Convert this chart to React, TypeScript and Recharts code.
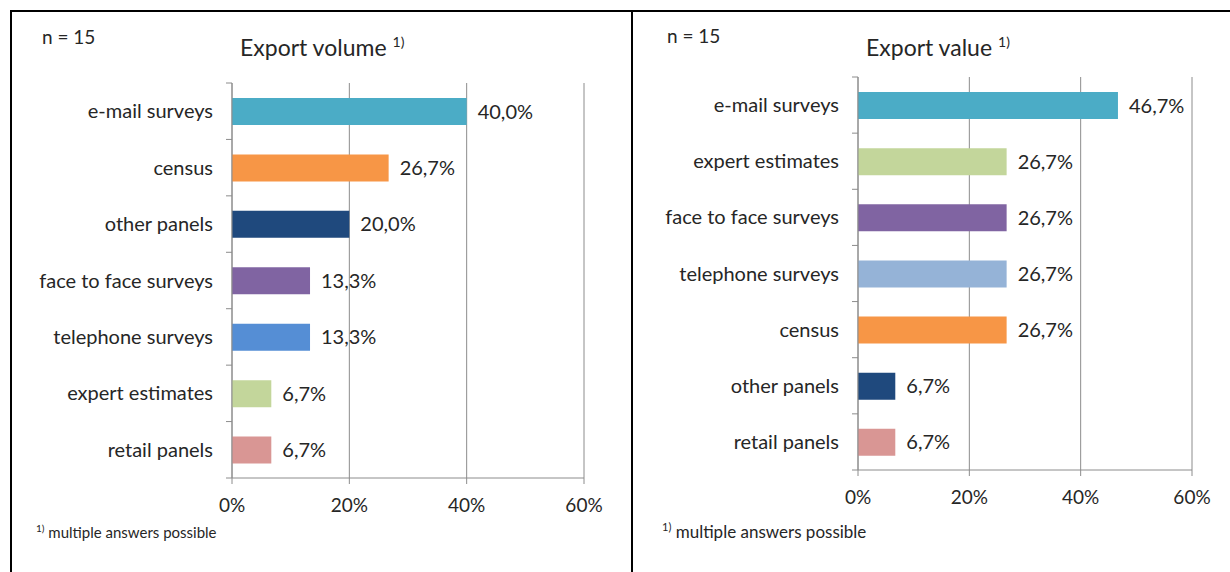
import React from 'react';
import { BarChart, Bar, XAxis, YAxis, CartesianGrid, Cell, LabelList } from 'recharts';

/* ---------------------------------------------------------------------------
   Data
   --------------------------------------------------------------------------- */

const volumeCategories = [
  'e-mail surveys',
  'census',
  'other panels',
  'face to face surveys',
  'telephone surveys',
  'expert estimates',
  'retail panels',
];
const volumeShares = [40.0, 26.7, 20.0, 13.3, 13.3, 6.7, 6.7];

const valueCategories = [
  'e-mail surveys',
  'expert estimates',
  'face to face surveys',
  'telephone surveys',
  'census',
  'other panels',
  'retail panels',
];
const valueShares = [46.7, 26.7, 26.7, 26.7, 26.7, 6.7, 6.7];

const shareTicks = [0, 20, 40, 60];

/* ---------------------------------------------------------------------------
   Styles
   --------------------------------------------------------------------------- */

const volumeColors = ['#4BACC6', '#F79646', '#1F497D', '#8064A2', '#558ED5', '#C3D69B', '#D99694'];
const valueColors  = ['#4BACC6', '#C3D69B', '#8064A2', '#95B3D7', '#F79646', '#1F497D', '#D99694'];

const FONT  = 'Lato, "Open Sans", sans-serif';
const INK   = '#262626';
const GRID  = '#8C8C8C';

const fmtShare = (v: number) => `${v.toFixed(1).replace('.', ',')}%`;

/* ---------------------------------------------------------------------------
   Category tick: label + boundary tick marks (Excel style)
   --------------------------------------------------------------------------- */

function makeCategoryTick(band: number, count: number) {
  return function CategoryTick(props: any) {
    const { x, y, payload, index } = props;
    const axisX = x + 19;
    const top = y - band / 2;
    const bottom = y + band / 2;
    return (
      <g>
        <line x1={axisX - 6} x2={axisX} y1={top} y2={top} stroke={GRID} strokeWidth={1} />
        {index === count - 1 && (
          <line x1={axisX - 6} x2={axisX} y1={bottom} y2={bottom} stroke={GRID} strokeWidth={1} />
        )}
        <text x={x} y={y} dy={7} textAnchor="end" fill={INK} fontSize={20} fontFamily={FONT}>
          {payload.value}
        </text>
      </g>
    );
  };
}

/* ---------------------------------------------------------------------------
   One panel chart
   --------------------------------------------------------------------------- */

interface PanelProps {
  categories: string[];
  shares:     number[];
  colors:     string[];
  width:      number;
  height:     number;
  margin:     { top: number; right: number; bottom: number; left: number };
  yWidth:     number;
}

function SharePanel({ categories, shares, colors, width, height, margin, yWidth }: PanelProps) {
  const rows = categories.map((name, i) => ({ name, share: shares[i] }));
  const plotHeight = height - margin.top - margin.bottom - 30;
  const band = plotHeight / categories.length;

  return (
    <BarChart
      width={width}
      height={height}
      data={rows}
      layout="vertical"
      margin={margin}
      barSize={27}
    >
      <CartesianGrid horizontal={false} stroke={GRID} strokeWidth={1} />
      <XAxis
        type="number"
        domain={[0, 60]}
        ticks={shareTicks}
        tickFormatter={(v: number) => `${v}%`}
        axisLine={{ stroke: GRID }}
        tickLine={{ stroke: GRID }}
        tickSize={6}
        tickMargin={15}
        height={30}
        tick={{ fill: INK, fontSize: 19, fontFamily: FONT }}
        interval={0}
      />
      <YAxis
        type="category"
        dataKey="name"
        width={yWidth}
        axisLine={{ stroke: GRID }}
        tickLine={false}
        tickSize={6}
        tickMargin={13}
        interval={0}
        tick={makeCategoryTick(band, categories.length)}
      />
      <Bar dataKey="share" isAnimationActive={false}>
        {rows.map((r, i) => (
          <Cell key={r.name} fill={colors[i]} />
        ))}
        <LabelList
          dataKey="share"
          position="right"
          offset={11}
          formatter={(v: any) => fmtShare(Number(v))}
          style={{ fill: INK, fontSize: 20, fontFamily: FONT }}
        />
      </Bar>
    </BarChart>
  );
}

/* ---------------------------------------------------------------------------
   App
   --------------------------------------------------------------------------- */

export default function App() {
  const abs = (left: number, top: number): React.CSSProperties => ({ position: 'absolute', left, top, whiteSpace: 'nowrap' });

  return (
    <div
      style={{
        position: 'absolute', left: 0, top: 0, width: 1230, height: 572,
        background: '#fff', fontFamily: FONT, color: INK, overflow: 'hidden',
      }}
    >
      {/* panel frames */}
      <div style={{ position: 'absolute', left: 10, top: 10, width: 1220, height: 2, background: '#000' }} />
      <div style={{ position: 'absolute', left: 10, top: 10, width: 2, height: 562, background: '#000' }} />
      <div style={{ position: 'absolute', left: 631, top: 10, width: 2, height: 562, background: '#000' }} />

      {/* left panel */}
      <div style={abs(0, 0)}>
        <SharePanel
          categories={volumeCategories}
          shares={volumeShares}
          colors={volumeColors}
          width={632}
          height={572}
          margin={{ top: 83, right: 48, bottom: 64, left: 10 }}
          yWidth={222}
        />
      </div>
      <div style={{ ...abs(42, 25), fontSize: 19 }}>n = 15</div>
      <div style={{ ...abs(240, 33), fontSize: 23 }}>
        Export volume<sup style={{ fontSize: 14, marginLeft: 6 }}>1)</sup>
      </div>
      <div style={{ ...abs(36, 522), fontSize: 15 }}>
        <sup style={{ fontSize: 10 }}>1)</sup> multiple answers possible
      </div>

      {/* right panel */}
      <div style={abs(632, 0)}>
        <SharePanel
          categories={valueCategories}
          shares={valueShares}
          colors={valueColors}
          width={598}
          height={572}
          margin={{ top: 77, right: 38, bottom: 72, left: 10 }}
          yWidth={216}
        />
      </div>
      <div style={{ ...abs(667, 24), fontSize: 19 }}>n = 15</div>
      <div style={{ ...abs(866, 33), fontSize: 23 }}>
        Export value<sup style={{ fontSize: 14, marginLeft: 6 }}>1)</sup>
      </div>
      <div style={{ ...abs(662, 520), fontSize: 17 }}>
        <sup style={{ fontSize: 11 }}>1)</sup> multiple answers possible
      </div>
    </div>
  );
}
